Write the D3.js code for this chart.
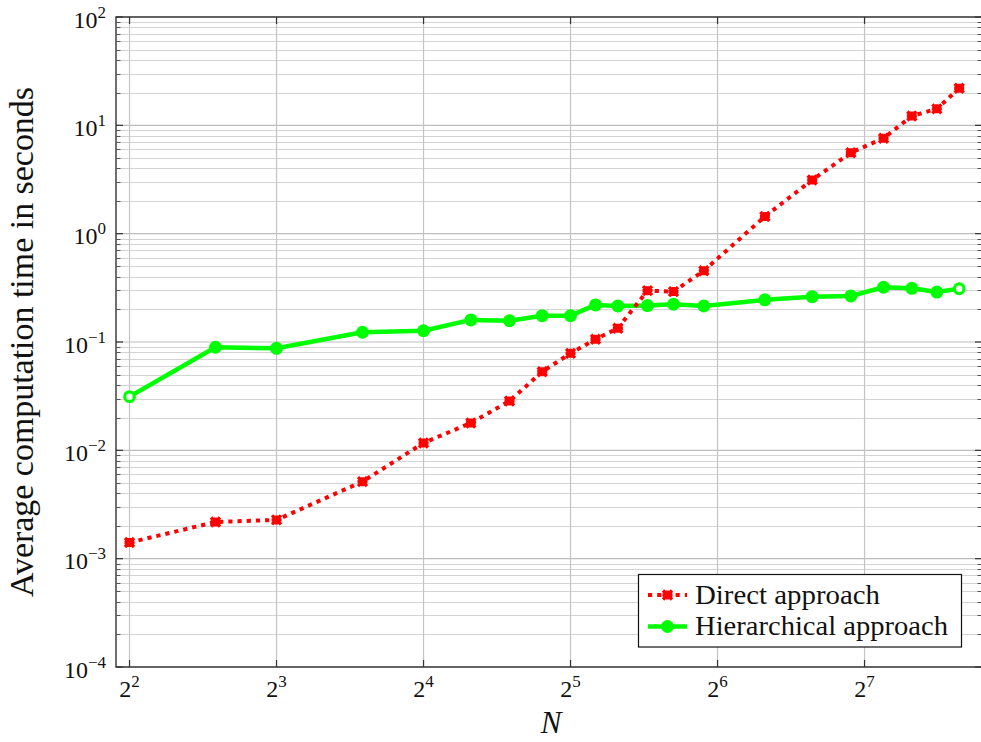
<!DOCTYPE html>
<html><head><meta charset="utf-8">
<script src="https://cdn.jsdelivr.net/npm/d3@7"></script>
<style>html,body{margin:0;padding:0;background:#fff;} svg{display:block;}</style>
</head><body>
<svg id="chart" width="981" height="742"></svg>
<script>
// ---- data ----
const N = [4, 6, 8, 12, 16, 20, 24, 28, 32, 36, 40, 46, 52, 60, 80, 100, 120, 140, 160, 180, 200];
const directTimes = [0.00141, 0.00218, 0.00228, 0.00514, 0.0117, 0.0179, 0.0285, 0.0532, 0.0786, 0.106, 0.134, 0.298, 0.292, 0.455, 1.44, 3.13, 5.59, 7.6, 12.2, 14.2, 22.0];
const hierTimes = [0.0313, 0.0894, 0.0875, 0.123, 0.127, 0.160, 0.157, 0.175, 0.175, 0.220, 0.215, 0.217, 0.223, 0.215, 0.245, 0.262, 0.266, 0.320, 0.313, 0.289, 0.310];
const xTickExps = [2, 3, 4, 5, 6, 7];
const yTickExps = [-4, -3, -2, -1, 0, 1, 2];
const seriesNames = ["Direct approach", "Hierarchical approach"];
const xLabel = "N";
const yLabel = "Average computation time in seconds";

// ---- layout ----
const L = 116, R = 982, T = 17, B = 667;
const svg = d3.select("#chart");
const font = "'Liberation Serif', 'Times New Roman', serif";

const x = d3.scaleLog().base(2).domain([Math.pow(2, 1.908), Math.pow(2, 7.799)]).range([L, R]);
const y = d3.scaleLog().base(10).domain([1e-4, 1e2]).range([B, T]);

const gGrid = svg.append("g");
// minor y grid
const minorY = [];
for (let e = -4; e < 2; e++) for (let k = 2; k <= 9; k++) minorY.push(k * Math.pow(10, e));
gGrid.selectAll("line.minor").data(minorY).join("line")
  .attr("x1", L).attr("x2", R)
  .attr("y1", d => Math.round(y(d)) + 0.5).attr("y2", d => Math.round(y(d)) + 0.5)
  .attr("stroke", "#d3d3d3").attr("stroke-width", 1);
// major y grid
gGrid.selectAll("line.majy").data(yTickExps).join("line")
  .attr("x1", L).attr("x2", R)
  .attr("y1", d => y(Math.pow(10, d))).attr("y2", d => y(Math.pow(10, d)))
  .attr("stroke", "#bdbdbd").attr("stroke-width", 1.2);
// major x grid
gGrid.selectAll("line.majx").data(xTickExps).join("line")
  .attr("x1", d => x(Math.pow(2, d))).attr("x2", d => x(Math.pow(2, d)))
  .attr("y1", T).attr("y2", B)
  .attr("stroke", "#c4c4c4").attr("stroke-width", 1.2);

// ---- series ----
const red = "#ff0000", green = "#00ff00";
const line = d3.line().x(d => x(d[0])).y(d => y(d[1]));
const directPts = N.map((n, i) => [n, directTimes[i]]);
const hierPts = N.map((n, i) => [n, hierTimes[i]]);

svg.append("path").datum(hierPts).attr("d", line)
  .attr("fill", "none").attr("stroke", green).attr("stroke-width", 4.5).attr("stroke-linejoin", "round");
svg.selectAll("circle.h").data(hierPts).join("circle")
  .attr("cx", d => x(d[0])).attr("cy", d => y(d[1])).attr("r", (d, i) => (i === 0 || i === hierPts.length - 1) ? 4.8 : 6.5)
  .attr("fill", (d, i) => (i === 0 || i === hierPts.length - 1) ? "#fff" : green)
  .attr("stroke", green).attr("stroke-width", (d, i) => (i === 0 || i === hierPts.length - 1) ? 3.2 : 0);

svg.append("path").datum(directPts).attr("d", line)
  .attr("fill", "none").attr("stroke", red).attr("stroke-width", 4).attr("stroke-dasharray", "4.2,5");
function xMark(g, cx, cy) {
  const s = 4.5;
  g.append("path").attr("d", `M${cx - s},${cy - s}L${cx + s},${cy + s}M${cx - s},${cy + s}L${cx + s},${cy - s}M${cx - s - 0.5},${cy}L${cx + s + 0.5},${cy}M${cx},${cy - s}L${cx},${cy + s}`)
    .attr("stroke", red).attr("stroke-width", 3.4).attr("fill", "none");
}
const gMarks = svg.append("g");
directPts.forEach(d => xMark(gMarks, x(d[0]), y(d[1])));

// ---- frame and ticks ----
const gAx = svg.append("g");
gAx.append("rect").attr("x", L).attr("y", T).attr("width", R - L).attr("height", B - T)
  .attr("fill", "none").attr("stroke", "#222").attr("stroke-width", 1.3);
minorY.forEach(v => {
  const yy = Math.round(y(v)) + 0.5;
  gAx.append("line").attr("x1", L).attr("x2", L + 4.5).attr("y1", yy).attr("y2", yy).attr("stroke", "#555").attr("stroke-width", 1);
  gAx.append("line").attr("x1", R).attr("x2", R - 4.5).attr("y1", yy).attr("y2", yy).attr("stroke", "#555").attr("stroke-width", 1);
});
yTickExps.forEach(e => {
  const yy = y(Math.pow(10, e));
  gAx.append("line").attr("x1", L).attr("x2", L + 7).attr("y1", yy).attr("y2", yy).attr("stroke", "#333").attr("stroke-width", 1.2);
  gAx.append("line").attr("x1", R).attr("x2", R - 7).attr("y1", yy).attr("y2", yy).attr("stroke", "#333").attr("stroke-width", 1.2);
  const t = gAx.append("text").attr("x", 106).attr("y", yy + 10.5)
    .attr("text-anchor", "end").attr("font-family", font).attr("font-size", 24).attr("fill", "#111");
  t.append("tspan").text("10");
  t.append("tspan").attr("dy", -10).attr("font-size", 17).text(e < 0 ? "\u2212" + (-e) : String(e));
});
xTickExps.forEach(e => {
  const xx = x(Math.pow(2, e));
  gAx.append("line").attr("x1", xx).attr("x2", xx).attr("y1", B).attr("y2", B - 7).attr("stroke", "#333").attr("stroke-width", 1.2);
  gAx.append("line").attr("x1", xx).attr("x2", xx).attr("y1", T).attr("y2", T + 7).attr("stroke", "#333").attr("stroke-width", 1.2);
  const t = gAx.append("text").attr("x", xx).attr("y", 697)
    .attr("text-anchor", "middle").attr("font-family", font).attr("font-size", 24).attr("fill", "#111");
  t.append("tspan").text("2");
  t.append("tspan").attr("dy", -10).attr("font-size", 17).text(String(e));
});

// axis labels
svg.append("text").attr("x", (L + R) / 2 + 2).attr("y", 733).attr("text-anchor", "middle")
  .attr("font-family", font).attr("font-style", "italic").attr("font-size", 31).attr("fill", "#111").text(xLabel);
svg.append("text").attr("transform", `translate(33,${(T + B) / 2}) rotate(-90)`).attr("text-anchor", "middle")
  .attr("font-family", font).attr("font-size", 33).attr("fill", "#111")
  .attr("textLength", 510).attr("lengthAdjust", "spacingAndGlyphs").text(yLabel);

// ---- legend ----
const lg = svg.append("g");
lg.append("rect").attr("x", 638.5).attr("y", 574.5).attr("width", 323).attr("height", 72.5)
  .attr("fill", "#fff").attr("stroke", "#111").attr("stroke-width", 1.2);
const legY = [595, 626.5];
lg.append("line").attr("x1", 648).attr("x2", 687).attr("y1", legY[0]).attr("y2", legY[0])
  .attr("stroke", red).attr("stroke-width", 4).attr("stroke-dasharray", "4.2,5");
xMark(lg, 667.5, legY[0]);
lg.append("line").attr("x1", 648).attr("x2", 687).attr("y1", legY[1]).attr("y2", legY[1])
  .attr("stroke", green).attr("stroke-width", 4.5);
lg.append("circle").attr("cx", 667.5).attr("cy", legY[1]).attr("r", 6.5).attr("fill", green);
const legW = [185, 253];
seriesNames.forEach((s, i) => {
  lg.append("text").attr("x", 695).attr("y", legY[i] + 8.5).attr("font-family", font).attr("font-size", 27)
    .attr("fill", "#111").attr("textLength", legW[i]).attr("lengthAdjust", "spacingAndGlyphs").text(s);
});
</script>
</body></html>
